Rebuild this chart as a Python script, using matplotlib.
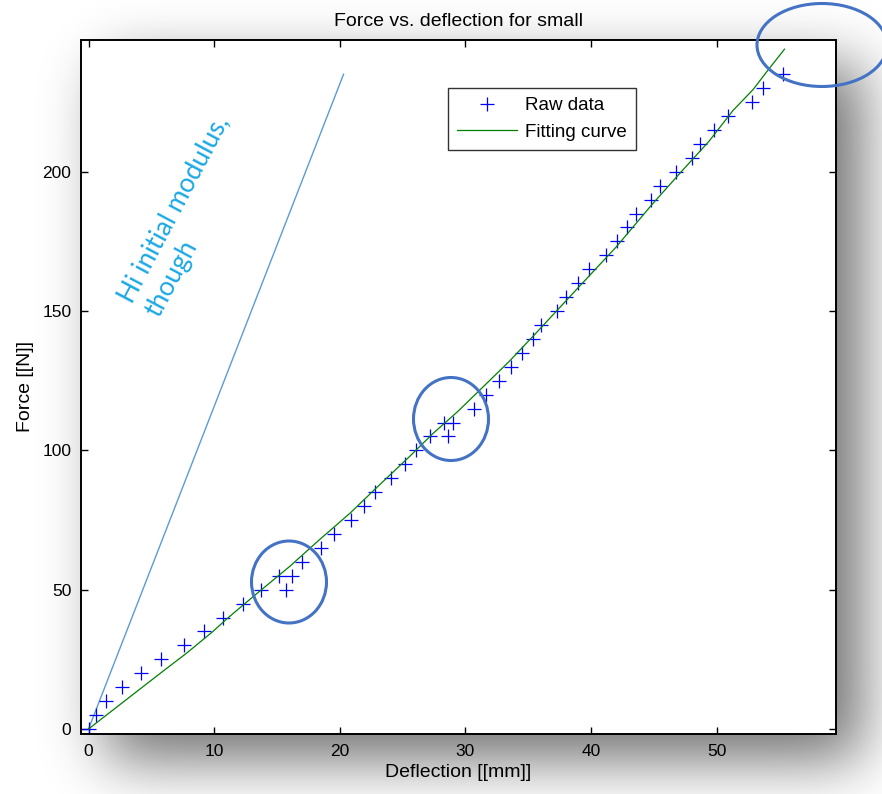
import numpy as np
import matplotlib
matplotlib.use("Agg")
import matplotlib.pyplot as plt
from matplotlib.patches import Ellipse

raw_deflection = [0.0, 0.6, 1.4, 2.7, 4.2, 5.8, 7.6, 9.2, 10.7, 12.3,
                  13.7, 15.2, 15.7, 16.2, 17.0, 18.5, 19.5, 20.9, 21.9, 22.8,
                  24.1, 25.2, 26.1, 27.2, 28.3, 28.6, 29.0, 30.7, 31.6, 32.7,
                  33.6, 34.5, 35.4, 36.0, 37.3, 38.0, 39.0, 39.8, 41.2, 42.1,
                  42.9, 43.6, 44.8, 45.5, 46.8, 48.0, 48.7, 49.8, 50.9, 52.8,
                  53.7, 55.3]
raw_force = [0, 5, 10, 15, 20, 25, 30, 35, 40, 45,
             50, 55, 50, 55, 60, 65, 70, 75, 80, 85,
             90, 95, 100, 105, 110, 105, 110, 115, 120, 125,
             130, 135, 140, 145, 150, 155, 160, 165, 170, 175,
             180, 185, 190, 195, 200, 205, 210, 215, 220, 225,
             230, 235]

# fitted curve
fit_deflection = [0.0, 1.0, 2.0, 3.0, 4.0, 5.0, 6.0, 7.8, 9.9, 11.0,
                  13.1, 16.0, 18.4, 20.8, 22.9, 25.6, 27.4, 29.4, 31.0, 33.5,
                  35.6, 39.1, 42.0, 44.9, 47.3, 49.4, 51.3, 52.9, 54.0, 55.4]
fit_force = [0.0, 3.5, 7.0, 10.5, 14.0, 17.5, 21.0, 27.2, 35.0, 39.5,
             47.5, 58.3, 68.0, 77.4, 86.5, 98.0, 106.0, 114.0, 121.0, 132.0,
             142.0, 159.0, 173.0, 188.5, 200.6, 211.0, 222.0, 229.5, 236.0, 244.0]

# hand-drawn "initial modulus" line
modulus_deflection = [0.0, 20.3]
modulus_force = [0.0, 235.0]

x_ticks = [0, 10, 20, 30, 40, 50]
y_ticks = [0, 50, 100, 150, 200]

W, H = 882, 794
fig = plt.figure(figsize=(W / 100, H / 100), dpi=100)
fig.patch.set_facecolor("white")

ax_left, ax_right, ax_top, ax_bottom = 81, 836, 40, 734

# soft drop shadow behind the axes box
bg = fig.add_axes([0, 0, 1, 1], zorder=-1)
yy, xx = np.mgrid[0:H, 0:W]
off = 25
mask = ((xx >= ax_left + off) & (xx <= ax_right + off) &
        (yy >= ax_top + off) & (yy <= ax_bottom + off)).astype(float)
sigma = 30
k = np.arange(-3 * sigma, 3 * sigma + 1)
kern = np.exp(-k ** 2 / (2 * sigma ** 2))
kern /= kern.sum()
blur = np.apply_along_axis(lambda r: np.convolve(r, kern, mode="same"), 1, mask)
blur = np.apply_along_axis(lambda c: np.convolve(c, kern, mode="same"), 0, blur)
shade = 1 - 0.56 * blur
bg.imshow(shade, cmap="gray", vmin=0, vmax=1, extent=[0, W, H, 0], aspect="auto")
bg.set_xlim(0, W)
bg.set_ylim(H, 0)
bg.axis("off")

ax = fig.add_axes([ax_left / W, 1 - ax_bottom / H,
                   (ax_right - ax_left) / W, (ax_bottom - ax_top) / H], zorder=1)
ax.set_facecolor("white")

ax.plot(modulus_deflection, modulus_force, color="#5b9bd5", lw=1.0)
ax.plot(raw_deflection, raw_force, "+", color="#0000ff", ms=10, mew=0.9,
        label="Raw data")
ax.plot(fit_deflection, fit_force, color="#008000", lw=0.9, label="Fitting curve")

ax.text(7.9, 184, "Hi initial modulus,\nthough", rotation=62, color="#1aa8e4",
        fontsize=19, family="Lato", ha="center", va="center",
        multialignment="left", linespacing=1.3)

ax.set_xlim(-0.6, 59.5)
ax.set_ylim(-1.8, 247.3)
ax.set_xticks(x_ticks)
ax.set_yticks(y_ticks)
ax.tick_params(direction="in", length=5, width=1, top=True, right=True,
               labelsize=12.5, pad=7)
for s in ax.spines.values():
    s.set_linewidth(1.4)

ax.set_title("Force vs. deflection for small", fontsize=14, pad=10,
             family="Liberation Sans")
ax.set_xlabel("Deflection [[mm]]", fontsize=14, family="Liberation Sans", labelpad=4)
ax.set_ylabel("Force [[N]]", fontsize=14, family="Liberation Sans", labelpad=6)
for lab in ax.get_xticklabels() + ax.get_yticklabels():
    lab.set_family("Liberation Sans")

leg = ax.legend(loc="upper left", bbox_to_anchor=(0.486, 0.931),
                prop={"family": "Liberation Sans", "size": 13.5},
                frameon=True, fancybox=False, handlelength=3.2,
                handletextpad=0.4, borderaxespad=0, labelspacing=0.5,
                borderpad=0.5)
leg.get_frame().set_edgecolor("black")
leg.get_frame().set_linewidth(1.0)

# circled highlights on top of everything
ov = fig.add_axes([0, 0, 1, 1], zorder=3)
ov.set_xlim(0, W)
ov.set_ylim(H, 0)
ov.axis("off")
ov.patch.set_alpha(0)
for cx, cy, w, h in [(289, 582, 75, 82), (451, 419, 75, 83), (822, 45, 130, 83)]:
    ov.add_patch(Ellipse((cx, cy), w, h, fill=False, edgecolor="#4472c4",
                         lw=2.2, clip_on=False))

fig.savefig("out.png", dpi=100)
